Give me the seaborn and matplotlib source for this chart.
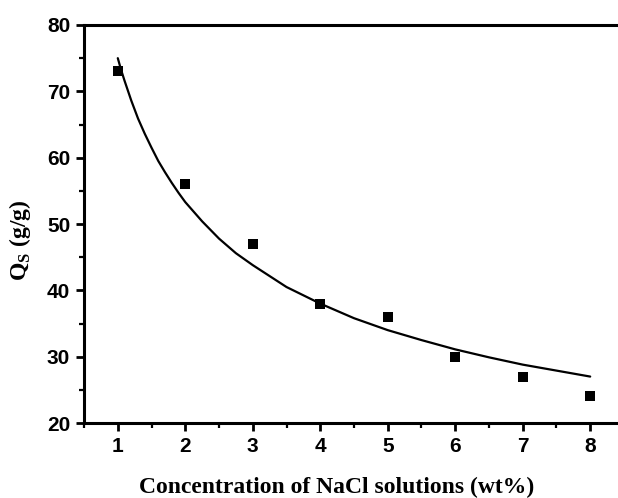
import matplotlib
matplotlib.use("Agg")
import matplotlib.pyplot as plt
import seaborn as sns
import pandas as pd
from matplotlib.ticker import MultipleLocator

# measured data
conc = [1, 2, 3, 4, 5, 6, 7, 8]
qs = [73, 56, 47, 38, 36, 30, 27, 24]

# fitted curve
fit_x = [1, 1.05, 1.1, 1.15, 1.2, 1.3, 1.4, 1.5, 1.6, 1.7, 1.8, 1.9, 2, 2.25, 2.5, 2.75, 3,
         3.5, 4, 4.5, 5, 5.5, 6, 6.5, 7, 7.5, 8]
fit_y = [75.0, 73.2, 71.6, 70.1, 68.6, 65.9, 63.6, 61.5, 59.5, 57.8, 56.2, 54.7, 53.3, 50.4, 47.8, 45.6, 43.8,
         40.5, 38.0, 35.8, 34.0, 32.5, 31.1, 29.9, 28.8, 27.9, 27.0]

x_ticks = [1, 2, 3, 4, 5, 6, 7, 8]
y_ticks = [20, 30, 40, 50, 60, 70, 80]

sns.set_style("ticks")
plt.rcParams["font.family"] = ["Liberation Sans", "DejaVu Sans"]
plt.rcParams["text.color"] = "black"
plt.rcParams["axes.labelcolor"] = "black"

fig = plt.figure(figsize=(6.18, 4.98), dpi=100)
ax = fig.add_axes([0.136, 0.1506, 0.8736, 0.7992])

pts = pd.DataFrame({"x": conc, "y": qs})
fit = pd.DataFrame({"x": fit_x, "y": fit_y})

sns.lineplot(data=fit, x="x", y="y", ax=ax, color="black", linewidth=1.6, sort=True)
sns.scatterplot(data=pts, x="x", y="y", ax=ax, marker="s", s=45, color="black",
                edgecolor="black", linewidth=0, zorder=3)

ax.set_xlim(0.5, 8.5)
ax.set_ylim(20, 80)
ax.set_xticks(x_ticks)
ax.set_yticks(y_ticks)
ax.xaxis.set_minor_locator(MultipleLocator(0.5))
ax.yaxis.set_minor_locator(MultipleLocator(5))

for s in ["left", "bottom", "top"]:
    ax.spines[s].set_linewidth(2.2)
    ax.spines[s].set_color("black")
ax.spines["right"].set_visible(False)

ax.tick_params(which="major", direction="out", length=6, width=2, labelsize=15,
               top=False, right=False, pad=4, color="black", labelcolor="black")
ax.tick_params(which="minor", direction="out", length=3.5, width=1.6, top=False, right=False,
               color="black")
for lab in ax.get_xticklabels() + ax.get_yticklabels():
    lab.set_fontweight("bold")

ax.set_xlabel("Concentration of NaCl solutions (wt%)", fontsize=17, fontweight="bold",
              family="Liberation Serif", color="black")
ax.set_ylabel(r"Q$_\mathregular{S}$ (g/g)", fontsize=17, fontweight="bold",
              family="Liberation Serif", color="black")
ax.xaxis.set_label_coords(0.467, -0.135)
ax.yaxis.set_label_coords(-0.094, 0.46)

fig.savefig("out.png", dpi=100)
